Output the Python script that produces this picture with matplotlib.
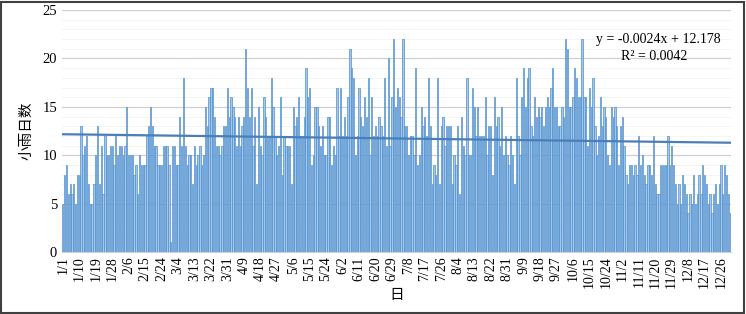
import numpy as np
import pandas as pd
import matplotlib
matplotlib.use("Agg")
import matplotlib.pyplot as plt
from matplotlib.patches import Rectangle

plt.rcParams["font.family"] = ["Liberation Serif", "Noto Sans CJK SC"]

# 2020 (leap year) daily counts of light-rain days
jan_feb = [5, 8, 9, 6, 7, 6, 7, 5, 8, 8, 13, 10, 11, 12, 7, 5, 5, 7, 10, 13, 7, 11, 6, 12,
           10, 10, 11, 11, 9, 12, 10, 11,
           11, 10, 11, 15, 10, 10, 10, 8, 9, 6, 10, 9, 9, 9, 12, 13, 15, 13, 11, 11, 9, 9,
           9, 11, 11, 11, 9, 1, 11, 11, 9]
mar_apr = [9, 14, 11, 18, 11, 9, 10, 10, 7, 11, 9, 10, 11, 9, 10, 15, 13, 16, 17, 17, 14, 11,
           11, 10, 11, 13, 13, 17, 14, 16, 15, 14, 11,
           14, 11, 13, 14, 21, 17, 14, 17, 11, 14, 7, 15, 11, 10, 16, 14, 12, 12, 18, 15, 12,
           10, 11, 16, 8, 12, 11, 11, 11, 7, 15, 13, 14]
may_jun = [16, 12, 12, 14, 19, 16, 17, 9, 10, 15, 15, 13, 11, 13, 10, 10, 14, 14, 9, 11, 10,
           17, 12, 17, 12, 14, 12, 16, 21, 19, 18, 10, 12, 17,
           14, 13, 16, 14, 18, 10, 16, 12, 13, 12, 14, 13, 12, 18, 11, 20, 11, 16, 22, 15, 17,
           16, 14, 22, 13, 13, 10, 12, 12, 10, 19, 9, 10]
jul_aug = [15, 13, 14, 12, 18, 13, 7, 9, 8, 18, 7, 13, 14, 11, 13, 13, 13, 7, 10, 9, 13, 6,
           14, 11, 10, 18, 10, 10, 17, 15, 12, 15, 12, 12, 12, 16,
           10, 13, 13, 8, 16, 13, 14, 11, 15, 10, 12, 10, 9, 12, 10, 7, 18, 12, 10, 16, 19, 15,
           18, 19, 13, 12, 16, 14, 15, 14]
sep_oct = [15, 13, 15, 16, 15, 17, 19, 15, 15, 13, 13, 15, 14, 22, 21, 15, 15, 16, 19, 18, 16,
           16, 22, 16, 16, 11, 17, 15, 18, 13, 10, 12, 16, 13, 15,
           14, 10, 9, 15, 14, 15, 13, 9, 13, 14, 11, 8, 7, 9, 9, 8, 9, 8, 12, 9, 10, 8, 7, 9,
           9, 8, 12, 7, 6, 6, 9, 9]
nov_dec = [9, 9, 12, 9, 11, 9, 7, 5, 7, 5, 8, 7, 6, 4, 6, 5, 8, 5, 6, 8, 6, 9, 8, 7, 5, 6,
           4, 6, 7, 5, 7, 9, 6, 9, 8, 6, 4]

counts = jan_feb + mar_apr + may_jun + jul_aug + sep_oct + nov_dec
dates = pd.date_range("2020-01-01", "2020-12-31", freq="D")
labels = [f"{d.month}/{d.day}" for d in dates]

slope = -0.0024
intercept = 12.178
r2 = 0.0042

fig = plt.figure(figsize=(7.46, 3.14), dpi=100)
ax = fig.add_axes([0.083, 0.197, 0.897, 0.771])

x = np.arange(len(counts))
ax.bar(x, counts, width=0.7, color="#a5c8e8", edgecolor="#4f8fd0", linewidth=0.5, zorder=2)

xs = np.array([x[0] - 0.5, x[-1] + 0.5])
ax.plot(xs, slope * (xs + 1) + intercept, color="#4a7ebb", linewidth=1.6, zorder=3)
ax.text(0.985, 0.88, f"y = {slope}x + {intercept}", transform=ax.transAxes,
        ha="right", va="center", fontsize=10)
ax.text(0.935, 0.81, f"R² = {r2}", transform=ax.transAxes,
        ha="right", va="center", fontsize=10)

ax.set_xlim(-0.5, len(counts) - 0.5)
ax.set_ylim(0, 25)
ax.set_yticks(range(0, 26, 5))
ax.set_yticks(range(0, 26), minor=True)
ax.set_xticks(x[::9])
ax.set_xticklabels(labels[::9], rotation=90, fontsize=10)
ax.tick_params(axis="y", labelsize=10.5, length=0, which="both")
ax.tick_params(axis="x", length=0, pad=3)
ax.grid(axis="y", which="major", color="#d0d0d0", linewidth=0.9, zorder=0)
ax.grid(axis="y", which="minor", color="#f2f2f2", linewidth=0.6, zorder=0)
for s in ["top", "right", "left"]:
    ax.spines[s].set_visible(False)
ax.spines["bottom"].set_color("#d0d0d0")

ax.set_ylabel("小雨日数", fontsize=10.5, labelpad=6)
ax.set_xlabel("日", fontsize=10.5, labelpad=1)

fig.patches.append(Rectangle((0.002, 0.004), 0.995, 0.99, transform=fig.transFigure,
                             fill=False, edgecolor="#404040", linewidth=1.5))

fig.savefig("out.png", dpi=100)
